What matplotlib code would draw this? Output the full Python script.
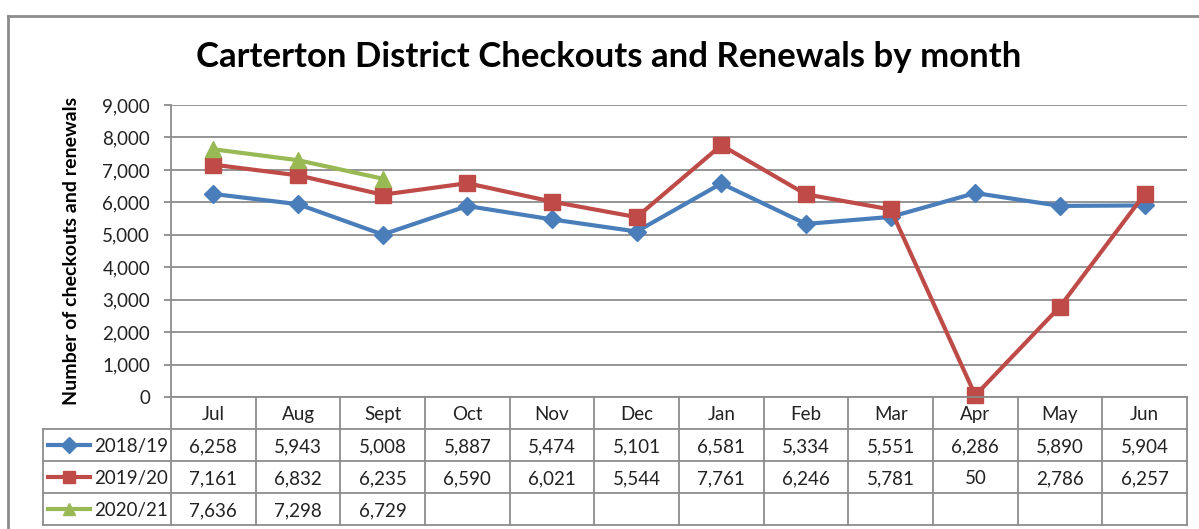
import matplotlib.pyplot as plt
from matplotlib.lines import Line2D

plt.rcParams['font.family'] = ['Lato', 'DejaVu Sans']

months = ['Jul', 'Aug', 'Sept', 'Oct', 'Nov', 'Dec', 'Jan', 'Feb', 'Mar', 'Apr', 'May', 'Jun']
y2018 = [6258, 5943, 5008, 5887, 5474, 5101, 6581, 5334, 5551, 6286, 5890, 5904]
y2019 = [7161, 6832, 6235, 6590, 6021, 5544, 7761, 6246, 5781, 50, 2786, 6257]
y2020 = [7636, 7298, 6729]
series_names = ['2018/19', '2019/20', '2020/21']
yticks = [0, 1000, 2000, 3000, 4000, 5000, 6000, 7000, 8000, 9000]

colors = ['#4A7EBB', '#BE4B48', '#98B954']
markers = ['D', 's', '^']
msizes = [9, 12, 11]
grey = '#8C8C8C'

W, H = 1199, 529
fig = plt.figure(figsize=(W / 100, H / 100), dpi=100)

def fx(px):
    return px / W

def fy(py):
    return 1 - py / H

# plot area in pixels
L, R, T, B = 171, 1187, 105, 397
ax = fig.add_axes([fx(L), fy(B), fx(R) - fx(L), fy(T) - fy(B)])

x = list(range(len(months)))
for vals, c, m, ms in zip([y2018, y2019, y2020], colors, markers, msizes):
    ax.plot(x[:len(vals)], vals, color=c, lw=3, marker=m, ms=ms, zorder=3, clip_on=False)

ax.set_xlim(-0.5, 11.5)
ax.set_ylim(0, 9000)
ax.set_yticks(yticks)
ax.set_yticklabels([f'{v:,}' for v in yticks], fontsize=13.5, color='#222222')
ax.set_xticks([])
ax.yaxis.grid(True, color=grey, lw=1.3)
ax.set_axisbelow(True)
for s in ['top', 'right', 'bottom']:
    ax.spines[s].set_visible(False)
ax.spines['left'].set_color(grey)
ax.spines['left'].set_linewidth(1.3)
ax.tick_params(axis='y', length=5, color=grey, width=1.3, pad=10)
ax.set_ylabel('Number of checkouts and renewals', fontsize=14, fontweight='bold', labelpad=16)

fig.text(fx(609), fy(57), 'Carterton District Checkouts and Renewals by month',
         ha='center', va='center', fontsize=25, fontweight='bold')

# data table under the plot
TL, TB = 43, 525
col_w = (R - L) / 12
tax = fig.add_axes([fx(TL), fy(TB), fx(R) - fx(TL), fy(B) - fy(TB)])
x_left = -0.5 - (L - TL) / col_w
tax.set_xlim(x_left, 11.5)
tax.set_ylim(4, 0)
tax.axis('off')

line_kw = dict(color=grey, lw=1.3, clip_on=False)
tax.plot([-0.5, 11.5], [0, 0], **line_kw)
for r in [1, 2, 3, 4]:
    tax.plot([x_left, 11.5], [r, r], **line_kw)
tax.plot([x_left, x_left], [1, 4], **line_kw)
for k in range(13):
    tax.plot([k - 0.5, k - 0.5], [0, 4], **line_kw)

for i, mth in enumerate(months):
    tax.text(i, 0.5, mth, ha='center', va='center_baseline', fontsize=13.5, color='#222222')

for r, (vals, name, c, m) in enumerate(zip([y2018, y2019, y2020], series_names, colors, markers)):
    yc = r + 1.5
    for i, v in enumerate(vals):
        tax.text(i, yc, f'{v:,}', ha='center', va='center_baseline', fontsize=13.5, color='#222222')
    kx0 = x_left + 5 / col_w
    kx1 = x_left + 47 / col_w
    tax.plot([kx0, kx1], [yc, yc], color=c, lw=3, clip_on=False)
    tax.plot([(kx0 + kx1) / 2], [yc], color=c, marker=m, ms=8, clip_on=False)
    tax.text(x_left + 51 / col_w, yc, name, ha='left', va='center_baseline', fontsize=13.5, color='#222222')

# outer chart frame (left and top edges visible)
fig.add_artist(Line2D([fx(8), fx(8)], [fy(16), 0], color=grey, lw=2))
fig.add_artist(Line2D([fx(8), 1], [fy(16), fy(16)], color=grey, lw=2))

fig.savefig('out.png', dpi=100)
